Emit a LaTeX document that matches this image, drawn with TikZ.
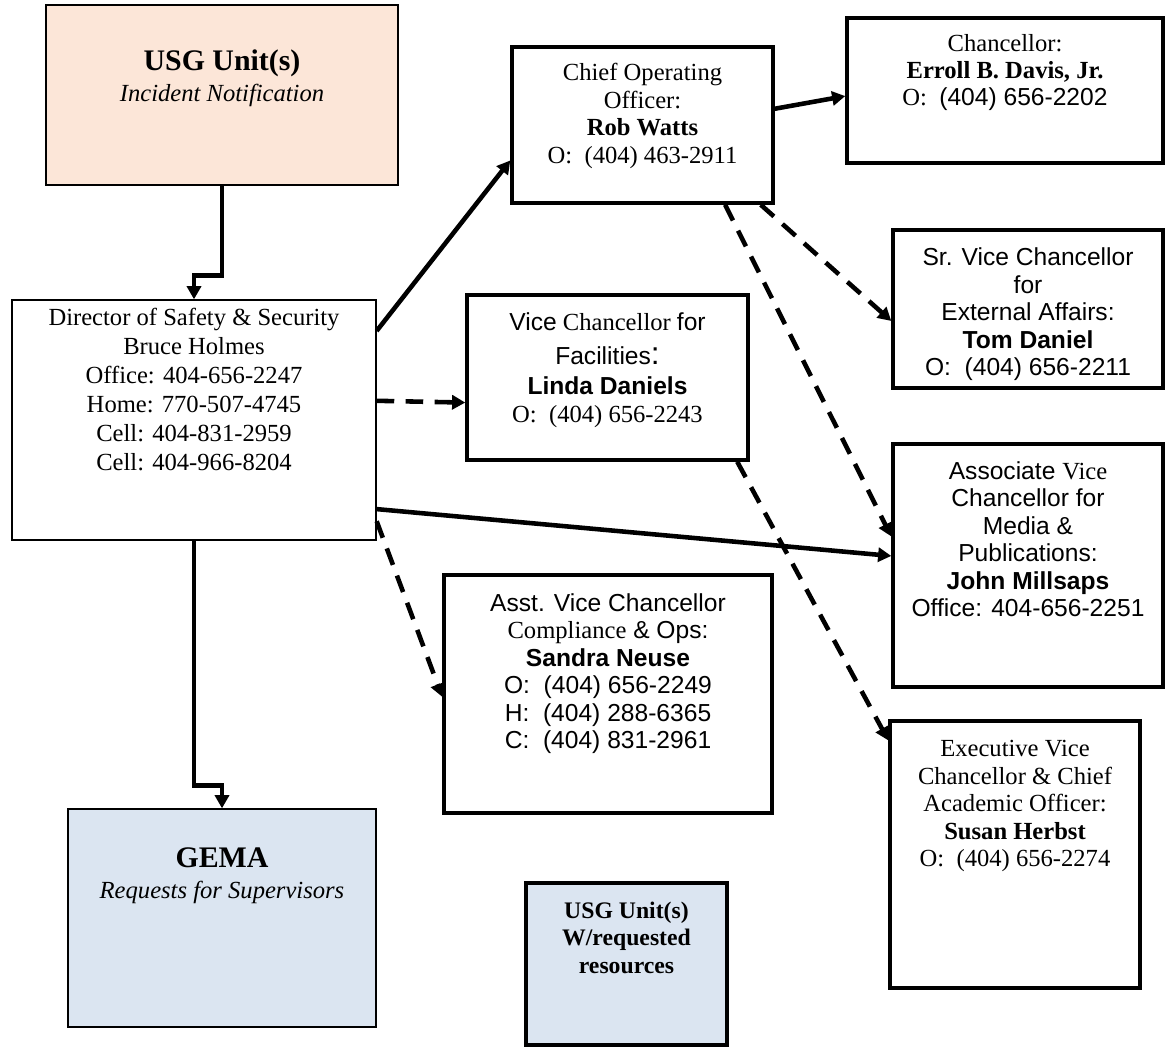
\documentclass[tikz,border=0pt]{standalone}
\usepackage{fontspec}
\setmainfont{Liberation Serif}
\setsansfont{Liberation Sans}
\usetikzlibrary{arrows.meta, positioning}

\definecolor{peach}{RGB}{252,230,216}
\definecolor{paleblue}{RGB}{219,229,241}

\tikzset{
  box/.style={draw, line width=2pt, inner sep=0pt},
  thinbox/.style={draw, line width=0.8pt, inner sep=0pt},
  txt/.style={inner sep=0pt, align=center, font=\fontsize{14}{15.6}\selectfont},
  conn/.style={line width=2.6pt, -{Triangle[length=7.5pt,width=8pt]}},
  dconn/.style={conn, dash pattern=on 10pt off 6.5pt}
}

\begin{document}
\begin{tikzpicture}[x=0.02cm, y=-0.02cm]
\useasboundingbox (0,0) rectangle (1165,1047);

\node[thinbox, fill=peach, minimum width=7.04cm, minimum height=3.6cm] (usg) at (222,95) {};
\node[thinbox, minimum width=7.28cm, minimum height=4.8cm] (dir) at (194,420) {};
\node[thinbox, fill=paleblue, minimum width=6.16cm, minimum height=4.36cm] (gema) at (222,918) {};
\node[box, minimum width=5.22cm, minimum height=3.12cm] (coo) at (642.5,125) {};
\node[box, minimum width=6.32cm, minimum height=2.9cm] (chan) at (1005,90.5) {};
\node[box, minimum width=5.4cm, minimum height=3.16cm] (srvc) at (1028,309) {};
\node[box, minimum width=5.62cm, minimum height=3.3cm] (vcf) at (607.5,377.5) {};
\node[box, minimum width=5.4cm, minimum height=4.86cm] (assoc) at (1028,565.5) {};
\node[box, minimum width=6.56cm, minimum height=4.76cm] (asst) at (608,694) {};
\node[box, minimum width=5cm, minimum height=5.34cm] (exec) at (1015,854.5) {};
\node[box, fill=paleblue, minimum width=4.02cm, minimum height=3.24cm] (usgb) at (626.5,964) {};

% texts
\node[txt, below=0.9cm of usg.north] (usgtxt) {{\fontsize{17}{20}\selectfont\bfseries USG Unit(s)}\\[2pt] \itshape Incident Notification};
\node[txt, font=\fontsize{14}{16.4}\selectfont, below=0.18cm of dir.north] (dirtxt) {Director of Safety \& Security\\ Bruce Holmes\\ Office: 404-656-2247\\ Home: 770-507-4745\\ Cell: 404-831-2959\\ Cell: 404-966-8204};
\node[txt, below=0.78cm of gema.north] (gematxt) {{\fontsize{17}{20}\selectfont\bfseries GEMA}\\[2pt] \itshape Requests for Supervisors};
\node[txt, below=0.36cm of coo.north] (cootxt) {Chief Operating\\ Officer:\\ \textbf{Rob Watts}\\ O:\ \ (404) 463-2911};
\node[txt, below=0.35cm of chan.north] (chantxt) {Chancellor:\\ \textbf{Erroll B. Davis, Jr.}\\ O:\ \ \textsf{(404) 656-2202}};
\node[txt, font=\fontsize{14}{15.6}\sffamily, below=0.39cm of srvc.north] (srvctxt) {Sr. Vice Chancellor\\ for\\ External Affairs:\\ \textbf{Tom Daniel}\\ O:\ \ (404) 656-2211};
\node[txt, below=0.38cm of vcf.north] (vcftxt) {\textsf{Vice} Chancellor \textsf{for}\\[4pt] \textsf{Facilities{\fontsize{18}{18}\selectfont:}}\\[1.5pt] \textsf{\textbf{Linda Daniels}}\\ O:\ \ (404) 656-2243};
\node[txt, font=\fontsize{14}{15.6}\sffamily, below=0.38cm of assoc.north] (assoctxt) {Associate \textrm{Vice}\\ Chancellor for\\ Media \&\\ Publications:\\ \textbf{John Millsaps}\\ Office: 404-656-2251};
\node[txt, font=\fontsize{14}{15.6}\sffamily, below=0.4cm of asst.north] (assttxt) {Asst. Vice Chancellor\\ \textrm{Compliance} \& Ops:\\ \textbf{Sandra Neuse}\\ O:\ \ (404) 656-2249\\ H:\ \ (404) 288-6365\\ C:\ \ (404) 831-2961};
\node[txt, below=0.42cm of exec.north] (exectxt) {Executive Vice\\ Chancellor \& Chief\\ Academic Officer:\\ \textbf{Susan Herbst}\\ O:\ \ (404) 656-2274};
\node[txt, font=\fontsize{13.5}{15.8}\selectfont\bfseries, below=0.4cm of usgb.north] (usgbtxt) {USG Unit(s)\\ W/requested\\ resources};

% connectors
\draw[conn] (usg.south) -- ++(0,90) -| (dir.north);
\draw[conn] (dir.south) -- ++(0,245) -| (gema.north);
\draw[conn] (dir.26) -- (coo.195);
\draw[conn] (coo.7) -- (chan.182);
\draw[conn] (dir.334) -- (assoc.176);
\draw[dconn] (dir.6) -- (vcf.190); % dashed links
\draw[dconn] (dir.331) -- (asst.181);
\draw[dconn] (coo.326) -- (srvc.185);
\draw[dconn] (coo.316) -- (assoc.168);
\draw[dconn] (vcf.327) -- (exec.138);
\end{tikzpicture}
\end{document}
